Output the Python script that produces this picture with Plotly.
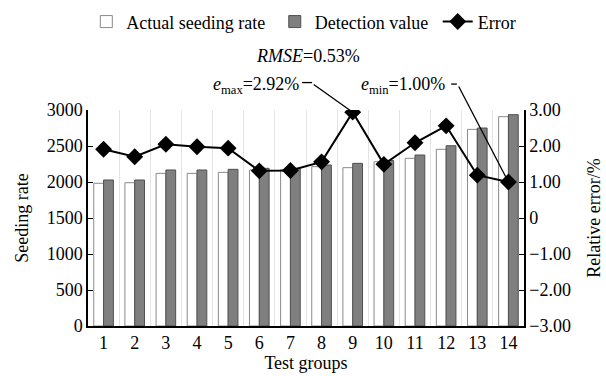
import plotly.graph_objects as go

groups = list(range(1, 15))
actual = [1982, 1990, 2120, 2120, 2134, 2167, 2172, 2213, 2199, 2282, 2329, 2454, 2731, 2907]
detected = [2028, 2028, 2167, 2167, 2176, 2190, 2190, 2236, 2259, 2300, 2375, 2504, 2750, 2935]
error = [1.91, 1.70, 2.05, 1.98, 1.94, 1.31, 1.32, 1.56, 2.94, 1.49, 2.09, 2.56, 1.19, 1.00]
left_ticks = [0, 500, 1000, 1500, 2000, 2500, 3000]
right_ticks = [-3, -2, -1, 0, 1, 2, 3]
right_labels = ["−3.00", "−2.00", "−1.00", "0", "1.00", "2.00", "3.00"]

FONT = "Liberation Serif"
NB = "\u00a0"

fig = go.Figure()
fig.add_trace(go.Bar(x=groups, y=actual, name="Actual seeding rate" + NB,
                     marker=dict(color="white", line=dict(color="#8a8a8a", width=1))))
fig.add_trace(go.Bar(x=groups, y=detected, name="Detection value" + NB,
                     marker=dict(color="#7f7f7f", line=dict(color="#505050", width=1))))
fig.add_trace(go.Scatter(x=groups, y=error, name="Error", yaxis="y2",
                         mode="lines+markers",
                         line=dict(color="black", width=2),
                         marker=dict(symbol="diamond", size=13, color="black")))

imax = error.index(max(error))
imin = error.index(min(error))

afont = dict(size=18, family=FONT, color="black")
annotations = [
    dict(text="<i>RMSE</i>=0.53%", xref="paper", yref="paper", x=0.505, y=1.25,
         xanchor="center", yanchor="middle", showarrow=False, font=afont),
    dict(text="<i>e</i><sub>max</sub>=2.92%", xref="paper", yref="paper", x=0.386, y=1.113,
         xanchor="center", yanchor="middle", showarrow=False, font=afont),
    dict(text="<i>e</i><sub>min</sub>=1.00%", xref="paper", yref="paper", x=0.7225, y=1.113,
         xanchor="center", yanchor="middle", showarrow=False, font=afont),
    dict(text=" ", x=groups[imax], y=error[imax], xref="x", yref="y2",
         showarrow=True, arrowhead=0, arrowwidth=1.3, arrowcolor="black",
         ax=-41, ay=-29, font=dict(size=2)),
    dict(text=" ", x=groups[imin], y=error[imin], xref="x", yref="y2",
         showarrow=True, arrowhead=0, arrowwidth=1.3, arrowcolor="black",
         ax=-51, ay=-98, font=dict(size=2)),
]

shapes = [
    dict(type="line", xref="paper", yref="paper", x0=0.491, x1=0.514, y0=1.127, y1=1.127,
         line=dict(color="black", width=1.3)),
    dict(type="line", xref="paper", yref="paper", x0=0.833, x1=0.846, y0=1.120, y1=1.120,
         line=dict(color="black", width=1.3)),
]

fig.update_layout(
    width=606, height=376,
    margin=dict(l=88, r=82, t=110, b=50, autoexpand=False),
    paper_bgcolor="white", plot_bgcolor="white",
    font=dict(family=FONT, size=18, color="black"),
    barmode="group", bargap=0.37, bargroupgap=0,
    showlegend=True,
    legend=dict(orientation="h", x=0.495, xanchor="center", y=1.408, yanchor="middle",
                font=dict(size=18, family=FONT), itemwidth=30, tracegroupgap=0,
                bgcolor="rgba(0,0,0,0)"),
    xaxis=dict(range=[0.5, 14.5], tickvals=groups, ticktext=[str(g) for g in groups],
               showline=True, linecolor="black", linewidth=1.5, ticks="",
               showgrid=False, zeroline=False,
               minor=dict(tickvals=[g + 0.5 for g in groups[:-1]], showgrid=True,
                          gridcolor="#e3e3e3", gridwidth=1, ticks=""),
               title=dict(text="Test groups", font=dict(size=18), standoff=3),
               tickfont=dict(size=18)),
    yaxis=dict(range=[0, 3000], tickvals=left_ticks, showline=True, linecolor="black",
               linewidth=1.5, ticks="inside", ticklen=5, tickcolor="black",
               showgrid=False, zeroline=False,
               title=dict(text="Seeding rate", font=dict(size=18), standoff=13),
               tickfont=dict(size=18)),
    yaxis2=dict(range=[-3, 3], tickvals=right_ticks, ticktext=right_labels,
                overlaying="y", side="right", showline=True, linecolor="black",
                linewidth=1.5, ticks="inside", ticklen=5, tickcolor="black",
                showgrid=False, zeroline=False,
                title=dict(text="Relative error/%", font=dict(size=18), standoff=17),
                tickfont=dict(size=18)),
    annotations=annotations,
    shapes=shapes,
)

fig.write_html("out.html", config={"displayModeBar": False},
               post_script="document.body.style.margin='0';")
